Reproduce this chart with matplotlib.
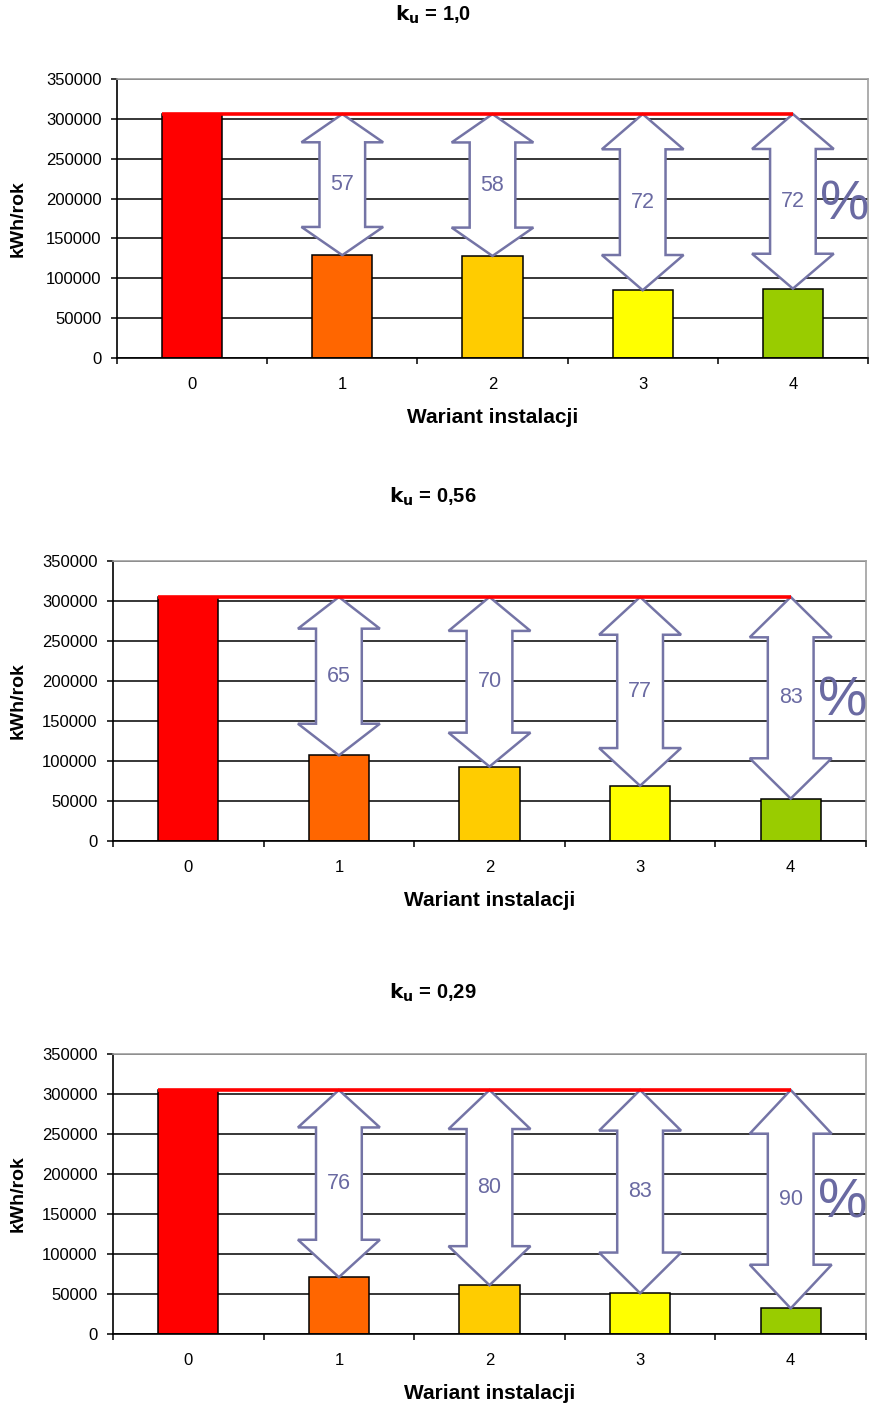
#!/usr/bin/env python3
"""
Energy demand per installation variant for three k_u factors.

Bar = kWh/rok for variants 0..4, double arrows show saving in % vs variant 0.
"""
import matplotlib

matplotlib.use("Agg")
import matplotlib.pyplot as plt
from matplotlib.patches import Polygon

# --- data ---
variants = ["0", "1", "2", "3", "4"]
ku_labels = ["1,0", "0,56", "0,29"]

energy_ku_10 = [306000, 129000, 128000, 85000, 87000]
energy_ku_056 = [305000, 107000, 93000, 69000, 53000]
energy_ku_029 = [305000, 71000, 61000, 51000, 32000]

savings_ku_10 = [57, 58, 72, 72]
savings_ku_056 = [65, 70, 77, 83]
savings_ku_029 = [76, 80, 83, 90]

bar_colors = ["#FF0000", "#FF6600", "#FFCC00", "#FFFF00", "#99CC00"]
y_ticks = [0, 50000, 100000, 150000, 200000, 250000, 300000, 350000]

ARROW_EDGE = "#7474A6"
ARROW_TEXT = "#6A6AA2"
FONT = ["Liberation Sans", "DejaVu Sans"]

plt.rcParams["font.family"] = FONT

W, H = 869, 1409
fig = plt.figure(figsize=(W / 100, H / 100), dpi=100)

# pixel boxes of the plot areas: left, top, right, bottom
boxes = [(117, 79, 868, 358), (113, 561, 866, 841), (113, 1054, 866, 1334)]
title_y = [15, 497, 993]

panels = [
    (energy_ku_10, savings_ku_10),
    (energy_ku_056, savings_ku_056),
    (energy_ku_029, savings_ku_029),
]


def draw_arrow(ax, xc, ytop, ybot):
    """Block double arrow between ytop and ybot at category xc."""
    h = 0.2 * (ytop - ybot)
    sw, hw = 0.152, 0.272
    pts = [
        (xc, ytop), (xc + hw, ytop - h), (xc + sw, ytop - h),
        (xc + sw, ybot + h), (xc + hw, ybot + h), (xc, ybot),
        (xc - hw, ybot + h), (xc - sw, ybot + h), (xc - sw, ytop - h),
        (xc - hw, ytop - h),
    ]
    ax.add_patch(Polygon(pts, closed=True, facecolor="white",
                         edgecolor=ARROW_EDGE, linewidth=1.8, zorder=3))


for (energy, savings), (l, t, r, b), ty, ku in zip(panels, boxes, title_y, ku_labels):
    ax = fig.add_axes([l / W, 1 - b / H, (r - l) / W, (b - t) / H])
    x = list(range(len(variants)))
    ax.bar(x, energy, width=0.4, color=bar_colors, edgecolor="black",
           linewidth=1.1, zorder=2)

    base = energy[0]
    ax.plot([-0.2, 4], [base, base], color="#FF0000", linewidth=2.6,
            solid_capstyle="butt", zorder=4)

    for i, pct in enumerate(savings, start=1):
        draw_arrow(ax, i, base, energy[i])
        ax.text(i, (base + energy[i]) / 2, str(pct), ha="center", va="center",
                color=ARROW_TEXT, fontsize=15.5, zorder=5)

    ax.text(4.18, (base + energy[4]) / 2 - 5000, "%", ha="left", va="center",
            color=ARROW_TEXT, fontsize=40, zorder=5, clip_on=False)

    ax.set_xlim(-0.5, 4.5)
    ax.set_ylim(0, 350000)
    ax.set_yticks(y_ticks)
    ax.set_yticklabels([str(v) for v in y_ticks])
    ax.set_xticks([i - 0.5 for i in range(6)])
    ax.set_xticklabels([])
    ax.set_xticks(x, minor=True)
    ax.set_xticklabels(variants, minor=True)
    ax.tick_params(axis="y", length=4, width=1.1, pad=7, labelsize=12)
    ax.tick_params(axis="x", which="major", length=4, width=1.1)
    ax.tick_params(axis="x", which="minor", length=0, pad=14, labelsize=12)

    ax.yaxis.grid(True, color="black", linewidth=1.1, zorder=0)
    ax.set_axisbelow(True)
    for side in ("top", "right"):
        ax.spines[side].set_color("#A0A0A0")
        ax.spines[side].set_linewidth(1.2)
    for side in ("left", "bottom"):
        ax.spines[side].set_color("black")
        ax.spines[side].set_linewidth(1.2)

    ax.set_ylabel("kWh/rok", fontsize=14, fontweight="bold")
    ax.yaxis.set_label_coords((27 - l) / (r - l), 0.5)
    ax.set_xlabel("Wariant instalacji", fontsize=15, fontweight="bold")
    ax.xaxis.set_label_coords(0.5, -50 / (b - t))

    fig.text(433 / W, 1 - ty / H, r"$\mathbf{k_u}$ = " + ku, ha="center",
             va="center", fontsize=14.5, fontweight="bold")

fig.savefig("out.png", dpi=100)
